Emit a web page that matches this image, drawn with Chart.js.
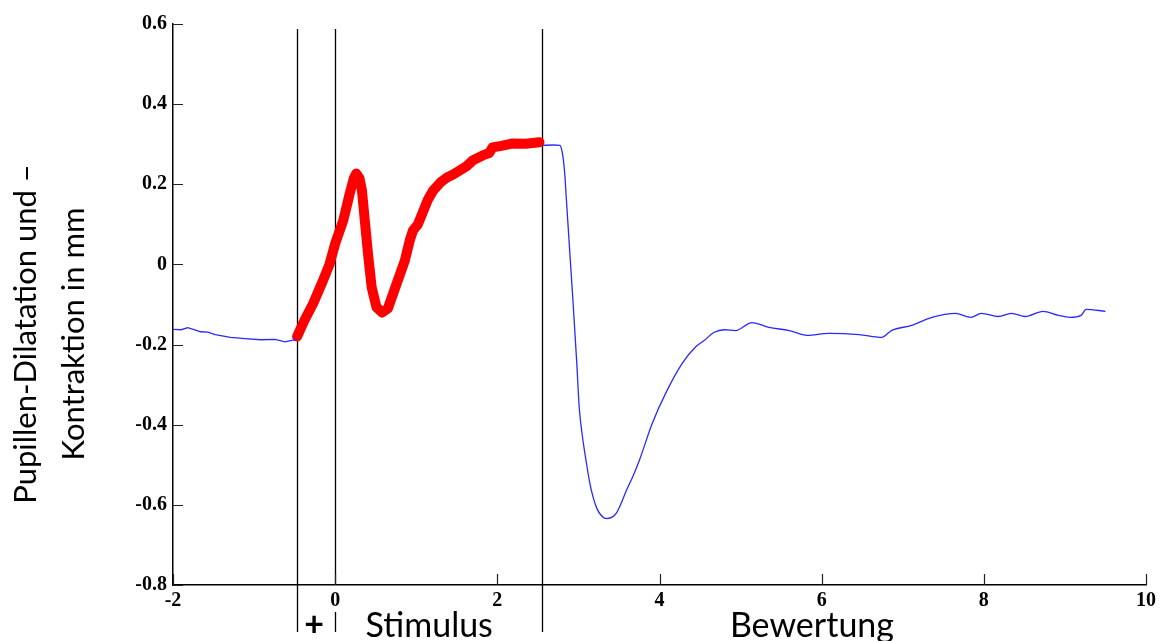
<!DOCTYPE html>
<html>
<head>
<meta charset="utf-8">
<script src="https://cdn.jsdelivr.net/npm/chart.js@4.4.1/dist/chart.umd.min.js"></script>
<style>
  html, body { margin: 0; padding: 0; background: #fff; }
  #wrap { width: 1160px; height: 641px; }
</style>
</head>
<body>
<div id="wrap"><canvas id="pupilChart" width="1160" height="641"></canvas></div>
<script>
// time in s (relative to stimulus onset), pupil change in mm
const baseT  = [-2.0, -1.9, -1.82, -1.74, -1.66, -1.57, -1.48, -1.29, -1.11, -0.92, -0.74, -0.62, -0.55, -0.47];
const baseMm = [-0.162, -0.163, -0.158, -0.163, -0.168, -0.169, -0.175, -0.182, -0.185, -0.188, -0.187, -0.193, -0.19, -0.187];

const stimT  = [-0.47, -0.38, -0.27, -0.15, -0.07, 0.0, 0.1, 0.18, 0.23, 0.26, 0.3, 0.33, 0.37, 0.41, 0.45, 0.51, 0.58, 0.65, 0.76, 0.86, 0.92, 0.96, 1.02, 1.08, 1.14, 1.21, 1.3, 1.38, 1.46, 1.54, 1.62, 1.7, 1.82, 1.9, 1.94, 2.05, 2.19, 2.35, 2.52];
const stimMm = [-0.18, -0.14, -0.097, -0.04, 0.0, 0.052, 0.11, 0.177, 0.215, 0.227, 0.215, 0.185, 0.1, 0.017, -0.057, -0.107, -0.12, -0.11, -0.047, 0.01, 0.06, 0.085, 0.1, 0.13, 0.16, 0.185, 0.205, 0.217, 0.225, 0.235, 0.245, 0.26, 0.272, 0.278, 0.292, 0.296, 0.302, 0.301, 0.305];

const rateT  = [2.55, 2.7, 2.77, 2.8, 2.83, 2.85, 2.89, 2.93, 2.98, 3.01, 3.05, 3.1, 3.14, 3.18, 3.23, 3.28, 3.32, 3.36, 3.42, 3.47, 3.53, 3.59, 3.67, 3.75, 3.91, 4.08, 4.28, 4.45, 4.55, 4.67, 4.8, 4.94, 5.14, 5.35, 5.6, 5.82, 6.09, 6.46, 6.74, 6.86, 7.11, 7.36, 7.65, 7.84, 7.97, 8.18, 8.34, 8.51, 8.73, 8.92, 9.06, 9.2, 9.26, 9.5];
const rateMm = [0.297, 0.298, 0.297, 0.28, 0.23, 0.167, 0.042, -0.082, -0.247, -0.357, -0.43, -0.497, -0.545, -0.58, -0.61, -0.626, -0.633, -0.634, -0.63, -0.62, -0.595, -0.565, -0.53, -0.49, -0.397, -0.32, -0.247, -0.205, -0.19, -0.17, -0.163, -0.165, -0.145, -0.157, -0.165, -0.177, -0.172, -0.175, -0.182, -0.165, -0.152, -0.132, -0.122, -0.132, -0.122, -0.13, -0.122, -0.13, -0.117, -0.127, -0.132, -0.127, -0.112, -0.117];

// phase borders (s)
const phaseMarks = [-0.47, 0, 2.55];
const xTicks = [-2, 0, 2, 4, 6, 8, 10];
const yTicks = [-0.8, -0.6, -0.4, -0.2, 0, 0.2, 0.4, 0.6];

const yTitle = ['Pupillen-Dilatation und \u2013', 'Kontraktion in mm'];

function pts(t, v) {
  return t.map((x, i) => ({ x: x, y: v[i] }));
}

const serif = "'Liberation Serif', 'Times New Roman', serif";
const sans = "Lato, 'Open Sans', sans-serif";

const phasePlugin = {
  id: 'phases',
  beforeDatasetsDraw(chart) {
    const ctx = chart.ctx;
    const xs = chart.scales.x;
    ctx.save();
    ctx.strokeStyle = '#000';
    ctx.lineWidth = 1.3;
    phaseMarks.forEach(v => {
      const px = Math.round(xs.getPixelForValue(v)) + 0.5;
      ctx.beginPath();
      ctx.moveTo(px, 29);
      if (v === 0) {
        ctx.lineTo(px, chart.chartArea.bottom);
        ctx.moveTo(px, 612);
      }
      ctx.lineTo(px, 632);
      ctx.stroke();
    });
    ctx.restore();
  },
  afterDraw(chart) {
    const ctx = chart.ctx;
    const xs = chart.scales.x, ys = chart.scales.y;
    const a = chart.chartArea;
    ctx.save();
    // inward tick marks
    ctx.strokeStyle = '#222';
    ctx.lineWidth = 1.2;
    ctx.beginPath();
    yTicks.forEach(v => {
      const py = Math.round(ys.getPixelForValue(v)) + 0.5;
      ctx.moveTo(a.left, py);
      ctx.lineTo(a.left + 10, py);
    });
    xTicks.forEach(v => {
      const px = Math.round(xs.getPixelForValue(v)) + 0.5;
      ctx.moveTo(px, a.bottom);
      ctx.lineTo(px, a.bottom - 11);
    });
    ctx.stroke();

    // phase labels
    ctx.fillStyle = '#000';
    ctx.textAlign = 'center';
    ctx.textBaseline = 'alphabetic';
    ctx.font = 'bold 34px ' + sans;
    ctx.fillText('+', xs.getPixelForValue(-0.26), 636);
    ctx.font = '34px ' + sans;
    ctx.fillText('Stimulus', xs.getPixelForValue(1.16), 637);
    ctx.fillText('Bewertung', xs.getPixelForValue(5.88), 637);

    // y axis title, two lines
    ctx.font = '31px ' + sans;
    [36, 84].forEach((bx, i) => {
      ctx.save();
      ctx.translate(bx, 334);
      ctx.rotate(-Math.PI / 2);
      ctx.fillText(yTitle[i], 0, 0);
      ctx.restore();
    });
    ctx.restore();
  }
};

new Chart(document.getElementById('pupilChart'), {
  type: 'line',
  data: {
    datasets: [
      { label: 'Baseline', data: pts(baseT, baseMm), borderColor: '#2a2aff', borderWidth: 1.3 },
      { label: 'Stimulus', data: pts(stimT, stimMm), borderColor: '#ff0000', borderWidth: 10, borderCapStyle: 'round', borderJoinStyle: 'round' },
      { label: 'Bewertung', data: pts(rateT, rateMm), borderColor: '#2a2aff', borderWidth: 1.3, cubicInterpolationMode: 'monotone' }
    ]
  },
  options: {
    responsive: false,
    animation: false,
    devicePixelRatio: 1,
    layout: { padding: { top: 24, right: 13, left: 0, bottom: 0 } },
    elements: { point: { radius: 0 }, line: { tension: 0 } },
    plugins: { legend: { display: false }, tooltip: { enabled: false } },
    scales: {
      x: {
        type: 'linear',
        min: -2, max: 10,
        grid: { display: false, drawTicks: false },
        border: { display: true, color: '#000', width: 1.5 },
        ticks: { stepSize: 2, padding: 4, color: '#000', font: { family: serif, size: 20, weight: 'bold' }, maxRotation: 0 },
        afterFit: s => { s.height = 56; }
      },
      y: {
        min: -0.8, max: 0.6,
        grid: { display: false, drawTicks: false },
        border: { display: true, color: '#000', width: 1.5 },
        ticks: {
          stepSize: 0.2, padding: 6, color: '#000',
          font: { family: serif, size: 20, weight: 'bold' },
          callback: v => String(Math.round(v * 10) / 10)
        },
        afterFit: s => { s.width = 173; }
      }
    }
  },
  plugins: [phasePlugin]
});
</script>
</body>
</html>
